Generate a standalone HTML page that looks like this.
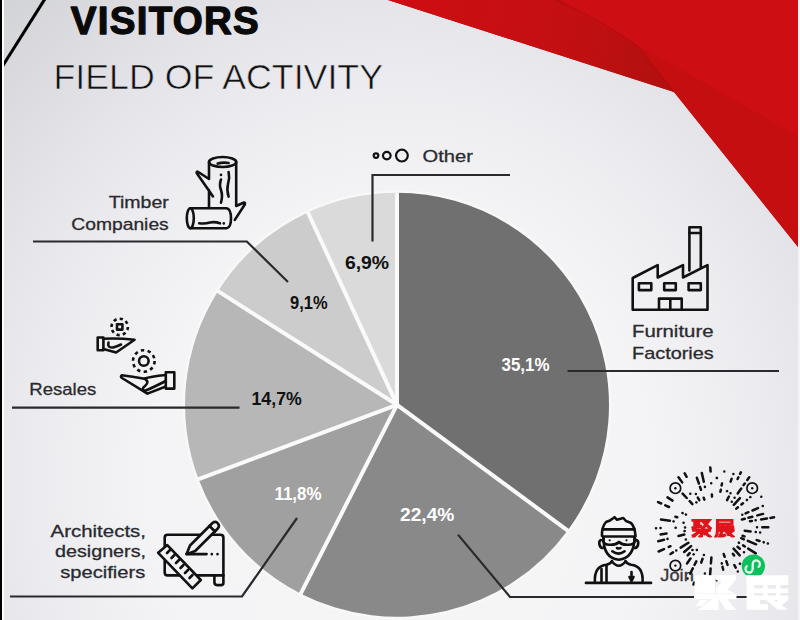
<!DOCTYPE html>
<html><head><meta charset="utf-8">
<style>
html,body{margin:0;padding:0;width:800px;height:620px;overflow:hidden;background:#ececf0;}
svg{display:block;}
text{font-family:"Liberation Sans",sans-serif;}
</style></head>
<body>
<svg width="800" height="620" viewBox="0 0 800 620">
<defs>
<radialGradient id="bg" gradientUnits="userSpaceOnUse" cx="400" cy="480" r="625" gradientTransform="translate(400 480) scale(1 1.1) translate(-400 -480)">
<stop offset="0" stop-color="#f6f6f6"/>
<stop offset="0.4" stop-color="#f4f4f6"/>
<stop offset="0.58" stop-color="#ececf0"/>
<stop offset="0.7" stop-color="#e5e5e9"/>
<stop offset="0.85" stop-color="#dadade"/>
<stop offset="1" stop-color="#cccfd3"/>
</radialGradient>
<symbol id="gju" viewBox="0 0 100 100">
<g fill="none" stroke="currentColor" stroke-width="17" stroke-linecap="square">
<path d="M4 7H46M14 7V46M35 7V46M14 21H35M14 34H35M4 48L46 40"/>
<path d="M54 9H90L58 50M64 20L97 50"/>
<path d="M8 60H92M50 60V92L42 96M40 70L6 90M24 78L6 98M60 68L96 96M86 62L66 78"/>
</g>
</symbol>
<symbol id="gzhan" viewBox="0 0 100 100">
<g fill="none" stroke="currentColor" stroke-width="17" stroke-linecap="square">
<path d="M12 7H90V28H12M12 7V62Q12 86 3 98"/>
<path d="M24 44H94M22 60H96M42 32V60M70 32V60"/>
<path d="M36 68L24 96M32 72V96L50 88M58 66L96 96M90 66L70 82"/>
</g>
</symbol>
</defs>
<rect x="0" y="0" width="800" height="620" fill="url(#bg)"/>

<!-- red ribbon -->
<defs>
<linearGradient id="rA" gradientUnits="userSpaceOnUse" x1="420" y1="0" x2="650" y2="60">
<stop offset="0" stop-color="#cc0e12"/><stop offset="0.55" stop-color="#c50f12"/><stop offset="1" stop-color="#b51010"/>
</linearGradient>
<linearGradient id="rC" gradientUnits="userSpaceOnUse" x1="660" y1="80" x2="720" y2="40">
<stop offset="0" stop-color="#cf0e12"/><stop offset="1" stop-color="#c20e10"/>
</linearGradient>
</defs>
<polygon points="388,0 798,0 798,247 674,92" fill="#c60e10"/>
<polygon points="388,0 557,0 637.5,46 674,92" fill="url(#rA)"/>
<polygon points="557,0 798,0 798,136 637.5,46" fill="#cd0e12"/>
<polygon points="637.5,46 798,136 798,247 674,92" fill="#c50e10"/>
<path d="M557 0Q600 20 637.5 46L674 92" fill="none" stroke="#a80d0e" stroke-width="1.5" opacity="0.6"/>

<!-- borders -->
<line x1="45.5" y1="-2" x2="2" y2="67" stroke="#000" stroke-width="3.1"/>
<rect x="0" y="0" width="2" height="620" fill="#000"/>
<rect x="2" y="0" width="2" height="620" fill="#fff"/>
<rect x="798" y="0" width="2" height="620" fill="#f4f4f6"/>

<!-- titles -->
<text x="70.8" y="33.6" font-size="38.5" font-weight="bold" fill="#0a0a0a" stroke="#0a0a0a" stroke-width="1.3" stroke-linejoin="round" textLength="188" lengthAdjust="spacing">VISITORS</text>
<text x="53.5" y="89" font-size="34.5" fill="#111" stroke="#e3e3e7" stroke-width="0.6" textLength="329.5" lengthAdjust="spacingAndGlyphs">FIELD OF ACTIVITY</text>

<!-- pie -->
<circle cx="397" cy="404.8" r="213" fill="none" stroke="#fafafa" stroke-width="3" opacity="0.7"/>
<g>
<path d="M397 404.8L397.0 192.8A212 212 0 0 1 567.7 530.5Z" fill="#707070"/>
<path d="M397 404.8L567.7 530.5A212 212 0 0 1 300.8 593.7Z" fill="#898989"/>
<path d="M397 404.8L300.8 593.7A212 212 0 0 1 198.5 479.1Z" fill="#a0a0a0"/>
<path d="M397 404.8L198.5 479.1A212 212 0 0 1 218.0 291.2Z" fill="#b7b7b7"/>
<path d="M397 404.8L218.0 291.2A212 212 0 0 1 307.9 212.4Z" fill="#cccccc"/>
<path d="M397 404.8L307.9 212.4A212 212 0 0 1 397.0 192.8Z" fill="#dadada"/>
</g>
<g stroke="#fafafa" stroke-width="4">
<line x1="397" y1="404.8" x2="397.0" y2="192.3"/>
<line x1="397" y1="404.8" x2="568.1" y2="530.8"/>
<line x1="397" y1="404.8" x2="300.5" y2="594.1"/>
<line x1="397" y1="404.8" x2="198.0" y2="479.3"/>
<line x1="397" y1="404.8" x2="217.6" y2="290.9"/>
<line x1="397" y1="404.8" x2="307.7" y2="212.0"/>
</g>

<!-- leader lines -->
<g stroke="#2a2a2e" stroke-width="2.2" fill="none">
<polyline points="372.5,241.5 372.5,175 510,175"/>
<polyline points="33,241.5 246.8,241.5 288,282"/>
<polyline points="12,407.7 239.5,407.7"/>
<polyline points="10,596.5 242,596.5 297,518"/>
<polyline points="567.5,371 779,371"/>
<polyline points="458,534.6 510,597 787,597"/>
</g>

<!-- percentages -->
<g font-weight="bold" font-size="17.5">
<text x="501.5" y="370.6" fill="#fff" textLength="48" lengthAdjust="spacingAndGlyphs">35,1%</text>
<text x="400" y="520.6" fill="#fff" textLength="54.4" lengthAdjust="spacingAndGlyphs">22,4%</text>
<text x="274.5" y="499.5" fill="#fff" textLength="47" lengthAdjust="spacingAndGlyphs">11,8%</text>
<text x="251.5" y="405" fill="#111" textLength="50.3" lengthAdjust="spacingAndGlyphs">14,7%</text>
<text x="290.1" y="308.9" fill="#111" textLength="37.5" lengthAdjust="spacingAndGlyphs">9,1%</text>
<text x="344.9" y="269.2" fill="#111" textLength="44.2" lengthAdjust="spacingAndGlyphs">6,9%</text>
</g>

<!-- labels -->
<g font-size="17" fill="#2a2a2e" stroke="#2a2a2e" stroke-width="0.3">
<text x="422.6" y="162" textLength="50.4" lengthAdjust="spacingAndGlyphs">Other</text>
<text x="108.75" y="207.7" textLength="60" lengthAdjust="spacingAndGlyphs">Timber</text>
<text x="71.25" y="229.7" textLength="97.5" lengthAdjust="spacingAndGlyphs">Companies</text>
<text x="29.3" y="395" textLength="67" lengthAdjust="spacingAndGlyphs">Resales</text>
<text x="50.5" y="537" textLength="95.5" lengthAdjust="spacingAndGlyphs">Architects,</text>
<text x="55" y="557" textLength="91" lengthAdjust="spacingAndGlyphs">designers,</text>
<text x="60.3" y="577.5" textLength="85" lengthAdjust="spacingAndGlyphs">specifiers</text>
<text x="632" y="336.5" textLength="81.5" lengthAdjust="spacingAndGlyphs">Furniture</text>
<text x="632" y="358.7" textLength="81.8" lengthAdjust="spacingAndGlyphs">Factories</text>
<text x="660.3" y="581.3" textLength="33.5" lengthAdjust="spacingAndGlyphs" fill="#3a3a40">Join</text>
</g>

<!-- icons -->
<g fill="none" stroke="#111" stroke-width="2.6" stroke-linecap="round" stroke-linejoin="round">
<!-- other circles -->
<g stroke-width="2.2"><circle cx="376" cy="155.6" r="2.3"/>
<circle cx="386.8" cy="155.6" r="3.8"/>
<circle cx="401.9" cy="155.6" r="5.9"/></g>

<!-- timber -->
<ellipse cx="222.6" cy="162" rx="13.6" ry="5"/>
<path d="M217.7 163.6Q223 162 228.6 163"/>
<path d="M209 162V179L197.5 171.5Q196 172 197 173.5L213 196.5M209 190V207.5"/>
<path d="M236.2 162V206L244 202.5Q245.5 203 244.8 204.5L234.8 219.9"/>
<path d="M221 174.7V175M221 179.5Q219 185 221 190Q223 196 221 202.7M228.6 172Q230 178 228 184Q226.5 190 228.6 196.6"/>
<ellipse cx="190.3" cy="218.2" rx="3.5" ry="10"/>
<path d="M190.3 208.2H226.6Q231 209 231 218.2Q231 227.5 226.6 228.2H190.3"/>
<path d="M199.2 223.3Q205 224 210 222.5Q215 221.5 220 223.3M223.8 223.3V223.4"/>

<!-- resales: top hand -->
<rect x="97.7" y="337.5" width="5.7" height="12.8"/>
<path d="M103.4 338.8Q118 338 134.6 339.7L116.1 352.5L103.4 348.9"/>
<path d="M108.5 342.5Q107 348 113 347.5Q117 346.5 121 344.5"/>
<circle cx="119.7" cy="326.9" r="8.2" stroke-dasharray="3.2 3.2" stroke-linecap="butt"/>
<rect x="117" y="324.2" width="5.4" height="5.4"/>
<!-- resales: bottom hand -->
<rect x="165.8" y="372.3" width="8.5" height="16.3"/>
<path d="M165.8 375Q150 376.5 144.5 378.7Q132 376.5 121.8 375.2Q120 376.5 122 378L147.4 393.6L165.8 386.5"/>
<path d="M144.5 378.7Q150 382 145 386Q141 389 144.5 391Q150 389 165.8 381"/>
<circle cx="143.8" cy="361" r="10.8" stroke-dasharray="3.4 3.4" stroke-linecap="butt"/>
<circle cx="143.8" cy="361" r="4.8"/>

<!-- architects -->
<path d="M167.5 534.8H220.5Q223.4 534.8 223.4 537.7V583Q223.4 585.1 221 585.1H217Q214.4 585.1 214.4 582V575.4H167.5Q164.7 575.4 164.7 572.5V537.7Q164.7 534.8 167.5 534.8Z" fill="#f2f2f4"/>
<path d="M214.4 575.4H223.4"/>
<path d="M158.2 552.8L167.3 545.1L200.8 580L192.4 588.3Z" fill="#f2f2f4"/>
<path d="M167 553L170 550M171.5 558L174.5 555M176 563L179 560M180.5 568L183.5 565M185 573L188 570M189.5 578L192.5 575"/>
<path d="M186.6 554.1L190 545.5L212.5 523Q215.6 520.7 218 523.5Q220 526 217.8 528.5L195.2 551Z" fill="#f2f2f4"/>
<path d="M209.5 526L215 531.5"/>
<path d="M186.6 554.1H206.6M211.8 554.1V554.2M217.5 554.1V554.2"/>

<!-- factory -->
<path d="M632.7 309.7V278L657.7 265.1V277.5L683 265.1V277.5L707.5 265.1V309.7Z"/>
<path d="M689.4 270.5V227.2H700.8V267"/>
<path d="M689.4 233H700.8"/>
<rect x="638.9" y="283.2" width="12.4" height="6.9"/>
<rect x="664.2" y="283.2" width="11.6" height="6.9"/>
<rect x="688.6" y="283.2" width="12.2" height="6.9"/>
<path d="M659 309.7V298.6H681.7V309.7M670.3 298.6V309.7"/>


<!-- person -->
<path d="M585.9 582.9H651" stroke-width="2.6"/>
<path d="M594.9 582.3Q594 566 606.5 564.8Q611 563.5 612 561M642.6 582.3Q643.5 566 631 564.8Q626.5 563.5 625.5 561"/>
<path d="M606.5 565V582M601.5 569V582"/>
<path d="M612 561.5Q618.8 570 625.5 561.5"/>
<path d="M602 536Q601.5 527 606 522L610 520.5L614.5 517.2L617 519.8L623.3 518L626 521L631 523Q635 527 635.5 536"/>
<path d="M603.5 537Q603 558 618.8 559.7Q634.5 558 634.5 537"/>
<path d="M603.5 529.4H634.5"/>
<path d="M603.3 536.5H634.9V541Q634 545 628 544.8Q622 545 619 542Q616 545 610 544.8Q604 545 603.3 541Z"/>
<path d="M601 540Q598.5 541 599.5 545Q600.5 548 603 548M636.5 540Q639 541 638 545Q637 548 634.5 548"/>
<path d="M612.3 551.3Q618.5 556 624.6 551.3"/>
<path d="M617 548Q618.8 549 620.5 548"/>
<path d="M631.5 572V580M629.5 577L631.5 581L633.5 577"/>
</g>
<circle cx="609.7" cy="540.3" r="1.1" fill="#111"/>
<circle cx="626.5" cy="540.3" r="1.1" fill="#111"/>

<!-- QR code -->
<circle cx="713.8" cy="527" r="63" fill="#f2f2f4" opacity="0.0"/>
<path d="M757.0 527.3L757.1 527.3M762.3 527.3L768.3 527.3M744.7 530.7L750.6 531.5M755.7 532.1L755.8 532.1M760.1 532.6L760.2 532.6M742.6 535.8L744.5 536.4M756.7 540.1L759.6 541.0M763.7 542.2L763.8 542.3M767.8 543.5L767.9 543.5M741.2 538.2L743.9 539.3M747.8 540.9L756.1 544.3M738.9 542.7L739.0 542.8M743.1 545.4L744.8 546.5M748.2 548.6L755.8 553.4M737.5 546.8L739.8 548.7M744.0 552.2L744.0 552.2M733.6 548.7L739.7 555.4M732.9 553.8L734.1 555.5M739.9 563.7L740.0 563.8M734.3 565.0L735.7 567.7M737.8 571.5L737.8 571.5M723.7 554.0L724.7 556.8M726.3 561.2L727.6 564.9M732.4 578.0L733.4 580.8M721.8 563.3L721.8 563.4M722.5 566.8L723.2 569.7M725.7 581.3L726.6 585.2M716.8 580.2L716.8 580.3M711.4 557.6L710.9 563.5M710.6 568.6L710.1 574.6M709.2 585.7L709.2 585.8M704.9 573.5L704.9 573.5M703.9 578.9L702.3 586.9M703.9 554.9L703.9 555.0M702.6 558.8L701.2 562.6M694.2 582.5L693.5 584.5M696.3 561.4L694.5 565.0M692.8 568.4L690.1 573.7M687.6 578.5L687.6 578.6M696.9 550.0L696.8 550.0M693.7 554.3L693.6 554.4M690.5 558.6L687.0 563.5M692.5 550.1L692.4 550.1M689.7 553.1L687.7 555.3M691.1 546.1L684.2 552.0M688.4 542.8L680.7 547.6M676.3 550.4L676.2 550.4M673.0 552.4L670.5 554.0M685.9 539.4L685.8 539.4M670.5 546.2L668.7 547.0M664.0 549.1L658.6 551.5M684.3 534.5L678.5 536.0M667.5 538.8L667.5 538.9M664.1 539.7L658.2 541.2M684.6 531.0L684.5 531.1M666.5 533.6L660.6 534.4M685.1 527.6L685.0 527.6M675.7 527.8L675.6 527.8M660.6 528.1L660.5 528.1M656.1 528.2L656.0 528.2M683.6 522.8L683.5 522.8M673.6 521.4L673.5 521.3M669.9 520.8L661.0 519.6M677.3 517.2L675.4 516.7M686.0 514.6L685.9 514.5M682.6 513.1L682.5 513.0M669.0 507.0L665.3 505.3M661.2 503.5L658.1 502.1M672.5 500.6L667.5 497.4M692.4 504.1L689.7 501.2M686.7 498.0L682.6 493.6M696.4 502.4L696.3 502.3M690.3 493.8L690.3 493.7M682.2 482.4L678.5 477.2M699.3 500.2L697.8 497.6M695.9 494.1L695.9 494.0M686.6 476.8L684.7 473.4M704.4 499.6L703.7 497.7M701.0 489.8L700.0 486.9M698.9 483.5L696.9 477.8M704.9 486.9L704.9 486.8M703.8 481.7L701.8 472.9M712.0 496.6L711.9 494.6M711.2 483.3L711.2 483.2M710.6 471.6L710.3 467.6M716.8 478.0L716.9 477.9M720.4 491.8L720.8 489.8M721.6 485.4L722.0 483.4M724.3 471.5L724.3 471.4M727.0 491.2L727.1 491.1M730.6 481.6L731.6 478.8M733.4 474.0L733.4 473.9M727.1 500.1L728.9 496.5M730.5 493.3L730.5 493.2M737.6 479.0L738.4 477.3M740.1 473.9L740.9 472.3M731.8 501.8L731.8 501.7M734.6 497.8L734.6 497.8M737.7 493.4L741.2 488.5M743.6 485.1L744.8 483.5M747.3 479.9L749.2 477.3M733.8 504.8L739.9 498.1M736.3 508.6L737.9 507.3M741.4 504.5L743.0 503.2M746.9 500.0L747.0 499.9M750.3 497.2L750.4 497.1M761.3 496.8L761.3 496.8M742.3 514.8L742.3 514.8M745.6 513.4L748.4 512.2M752.5 510.5L758.0 508.1M762.7 506.1L762.8 506.1M741.9 519.5L744.8 518.8M748.4 517.8L752.3 516.8M757.3 515.4L763.1 513.9M750.0 521.2L751.9 520.9M755.6 520.3L755.7 520.3M761.1 519.4L767.0 518.4M770.4 517.9L774.0 517.3" fill="none" stroke="#111" stroke-width="2.5" stroke-linecap="round"/>
<g fill="none" stroke="#111" stroke-width="1.7">
<circle cx="675.4" cy="488.2" r="5.3"/>
<circle cx="752.2" cy="488.2" r="5.3"/>
<circle cx="675.4" cy="565.6" r="5.3"/>
</g>
<circle cx="675.4" cy="488.2" r="1.2" fill="#111"/>
<circle cx="752.2" cy="488.2" r="1.2" fill="#111"/>
<circle cx="675.4" cy="565.6" r="1.2" fill="#111"/>
<circle cx="753.4" cy="566.1" r="11.7" fill="#0ac25c"/>
<path d="M746.8 566.2A3.6 3.6 0 1 0 752.7 568.8V564.2A3.6 3.6 0 1 1 758.6 566.8" fill="none" stroke="#e8fbef" stroke-width="2.3" stroke-linecap="round"/>
<use href="#gju" x="691" y="519" width="21" height="18.5" color="#e0141b"/>
<use href="#gzhan" x="714" y="519" width="21" height="18.5" color="#e0141b"/>

<!-- watermark -->
<g fill="#ffffff">
<!-- 聚 watermark -->
<rect x="694.6" y="575.3" width="20.4" height="18.2"/>
<polygon points="716,575.3 736,575.3 736,580 727,590 736,593.5 716,593.5 716,588 722,582 716,580"/>
<rect x="694" y="594" width="42.5" height="5.2"/>
<polygon points="712,599 718,599 712,610 698,610"/>
<rect x="713" y="599" width="5.5" height="11"/>
<polygon points="719,599 727,599 736,610 726,610"/>
<polygon points="700,600 708,600 702,606 696,606"/>
<!-- 展 watermark -->
<rect x="746.6" y="575.3" width="41.7" height="9.7"/>
<rect x="746.6" y="575.3" width="7.4" height="34.5"/>
<rect x="754" y="588.5" width="34.3" height="4.5"/>
<rect x="754" y="595.5" width="34.3" height="4.5"/>
<rect x="763" y="585" width="4.5" height="15"/>
<rect x="776" y="585" width="4.5" height="15"/>
<rect x="754" y="600" width="6" height="9.8"/>
<polygon points="766,600 774,600 788.3,609.8 778,609.8"/>
<polygon points="778,600 788.3,600 782,605 775,604"/>
<rect x="760" y="604" width="8" height="5.8"/>
</g>
</svg>
</body></html>
